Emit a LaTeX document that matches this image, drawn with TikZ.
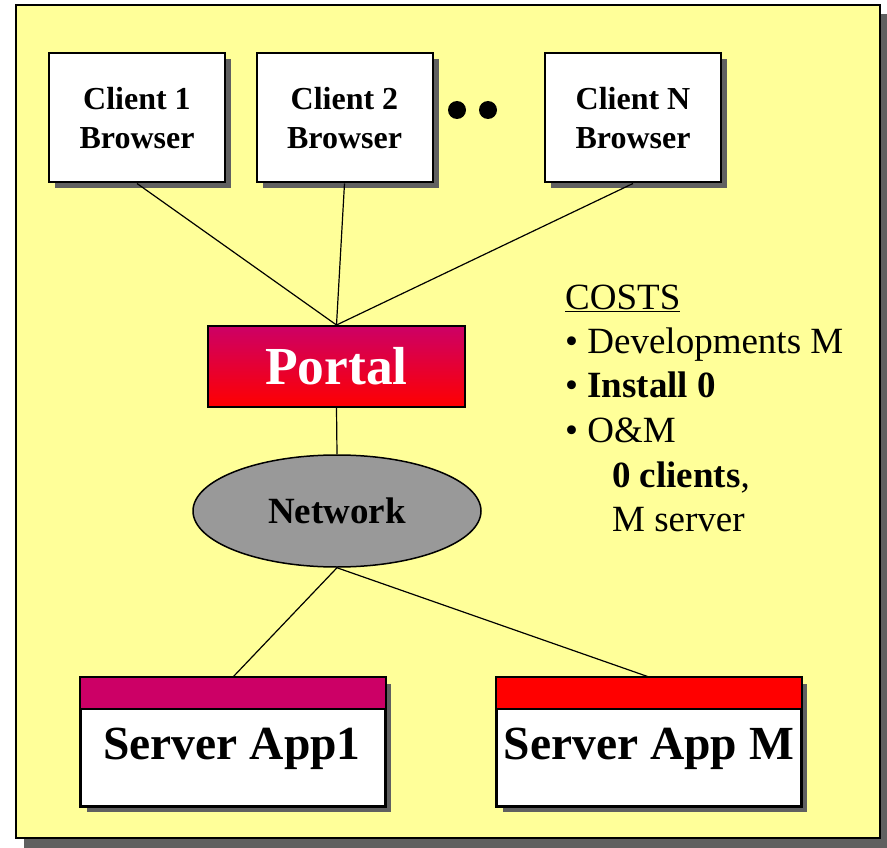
\documentclass[tikz,border=0pt]{standalone}
\usepackage{fontspec}
\setmainfont{Liberation Serif}
\usetikzlibrary{shapes.geometric,shadows}
\definecolor{bgyellow}{HTML}{FFFF99}
\definecolor{shadowgray}{HTML}{606060}
\definecolor{portaltop}{HTML}{CC0066}
\definecolor{portalbot}{HTML}{FF0000}
\definecolor{netgray}{HTML}{999999}
\begin{document}
\begin{tikzpicture}[x=1pt,y=-1pt,
  boxshadow/.style={drop shadow={shadow xshift=6pt,shadow yshift=-6pt,fill=shadowgray,opacity=1}},
  client/.style={draw=black,line width=2pt,fill=white,minimum width=176pt,minimum height=129pt,
    align=center,inner sep=0pt,font=\fontsize{32}{38.5}\selectfont\bfseries,boxshadow},
  server/.style={draw=black,line width=2pt,fill=white,minimum width=304pt,minimum height=128pt,
    inner sep=0pt,boxshadow},
  servertext/.style={anchor=base,inner sep=0pt,font=\fontsize{47.5}{56}\selectfont\bfseries},
  conn/.style={draw=black,line width=1.2pt},
  costtext/.style={anchor=base west,inner sep=0pt,font=\fontsize{37}{44}\selectfont}
]
\useasboundingbox (0,0) rectangle (887,848);
% background panel
\fill[shadowgray] (24,14) rectangle (887,848);
\draw[line width=2pt,fill=bgyellow] (16,5) rectangle (880,838);

% clients
\node[client] (c1) at (137,118) {Client 1\\Browser};
\node[client] (c2) at (344.5,118) {Client 2\\Browser};
\node[client] (cn) at (633,118) {Client N\\Browser};
\fill (457,110) circle (9);
\fill (488,110) circle (9);

% portal
\node[draw=black,line width=2pt,top color=portaltop,bottom color=portalbot,
  minimum width=257pt,minimum height=81pt,inner sep=0pt,text=white,
  font=\fontsize{53.5}{60}\selectfont\bfseries] (portal) at (336.5,366.5) {Portal};

% network
\node[ellipse,draw=black,line width=1.5pt,fill=netgray,minimum width=288pt,minimum height=112pt,
  inner sep=0pt,font=\fontsize{37}{44}\selectfont\bfseries] (net) at (337,511) {Network};

% servers
\node[server] (s1) at (233,742) {};
\fill[portaltop] (s1.north west) rectangle ([yshift=-32pt]s1.north east);
\draw[line width=2pt] (s1.north west) rectangle (s1.south east);
\draw[line width=2pt] ([yshift=-32pt]s1.north west) -- ([yshift=-32pt]s1.north east);
\node[servertext] (t1) at (232,759) {Server App1};

\node[server] (sm) at (649,742) {};
\fill[portalbot] (sm.north west) rectangle ([yshift=-32pt]sm.north east);
\draw[line width=2pt] (sm.north west) rectangle (sm.south east);
\draw[line width=2pt] ([yshift=-32pt]sm.north west) -- ([yshift=-32pt]sm.north east);
\node[servertext] (tm) at (649,759) {Server App M};

% connectors
\draw[conn] (c1.south) -- (portal.north);
\draw[conn] (c2.south) -- (portal.north);
\draw[conn] (cn.south) -- (portal.north);
\draw[conn] (portal.south) -- (net.north);
\draw[conn] (net.south) -- (s1.north);
\draw[conn] (net.south) -- (sm.north);

% costs
\node[costtext] (k0) at (565,309) {\underline{COSTS}};
\node[costtext] (k1) at (565,353) {• Developments M};
\node[costtext] (k2) at (565,397) {• \textbf{Install 0}};
\node[costtext] (k3) at (565,442) {• O\&M};
\node[costtext] (k4) at (612,487) {\textbf{0 clients},};
\node[costtext] (k5) at (612,531) {M server};
\end{tikzpicture}
\end{document}
